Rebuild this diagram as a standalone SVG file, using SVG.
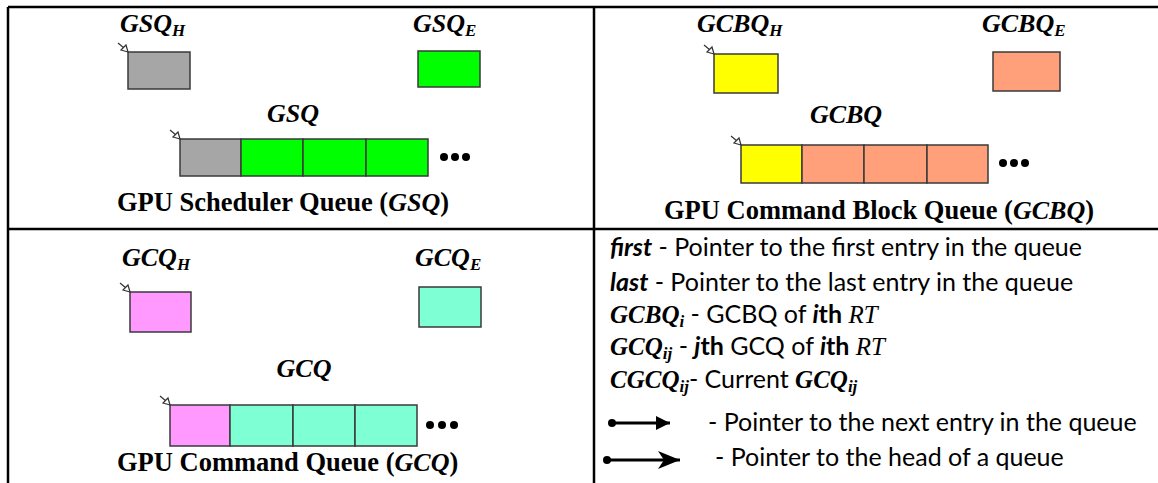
<svg xmlns="http://www.w3.org/2000/svg" width="1158" height="483" viewBox="0 0 1158 483">
  <style>
    .grid { stroke: #000; stroke-width: 2.5; fill: none; }
    .cell { stroke: #3a3a3a; stroke-width: 1.5; }
    .math { font-family: "Liberation Serif", "Times New Roman", serif; font-weight: bold; font-style: italic; font-size: 26px; fill: #000; }
    .mathi { font-family: "Liberation Serif", "Times New Roman", serif; font-style: italic; font-weight: normal; fill: #000; }
    .sub { font-size: 17px; }
    .cap { font-family: "Liberation Serif", "Times New Roman", serif; font-weight: bold; font-size: 26.5px; fill: #000; }
    .cap .math { font-size: 26px; }
    .leg { font-family: Lato, "Noto Sans", sans-serif; font-size: 25px; fill: #000; }
    .leg .math { font-size: 25px; }
    .leg .sub { font-size: 17px; }
    .leg .mathi { font-size: 25px; }
    .bi { font-weight: bold; font-style: italic; }
    .b { font-weight: bold; }
    .gray { fill: #a6a6a6; }
    .green { fill: #00ff00; }
    .yellow { fill: #ffff00; }
    .salmon { fill: #ffa07a; }
    .pink { fill: #ff99ff; }
    .aqua { fill: #7fffd4; }
    .ptr { stroke: #333; stroke-width: 1.2; fill: #fff; }
  </style>
  <defs>
    <!-- small hollow pointer that marks the head entry -->
    <g id="headPtr">
      <line x1="-10" y1="-9" x2="-4" y2="-4" stroke="#333" stroke-width="1.2"/>
      <polygon class="ptr" points="0,0 -7,-2 -2,-7"/>
    </g>
    <marker id="solidHead" markerWidth="16" markerHeight="16" refX="14" refY="8" orient="auto" markerUnits="userSpaceOnUse">
      <polygon points="0,1 14,8 0,15" fill="#000"/>
    </marker>
    <marker id="barbHead" markerWidth="24" markerHeight="20" refX="22" refY="10" orient="auto" markerUnits="userSpaceOnUse">
      <polygon points="0,1 22,10 0,19 6,10" fill="#000"/>
    </marker>
  </defs>

  <rect width="1158" height="483" fill="#fff"/>

  <!-- table rules -->
  <g id="table" class="grid">
    <line x1="8" y1="7" x2="1158" y2="7"/>
    <line x1="8" y1="7" x2="8" y2="483"/>
    <line x1="594" y1="7" x2="594" y2="483"/>
    <line x1="8" y1="229" x2="1158" y2="229"/>
  </g>

  <!-- GPU Scheduler Queue -->
  <g id="gsq-head">
    <text class="math" x="120" y="32">GSQ<tspan class="sub" dy="4">H</tspan></text>
    <rect class="cell gray" x="128" y="52" width="62" height="37"/>
    <use href="#headPtr" x="128" y="52"/>
  </g>
  <g id="gsq-end">
    <text class="math" x="413" y="32">GSQ<tspan class="sub" dy="4">E</tspan></text>
    <rect class="cell green" x="418" y="51" width="62" height="36"/>
  </g>
  <g id="gsq-queue">
    <text class="math" x="293" y="122" text-anchor="middle">GSQ</text>
    <rect class="cell gray" x="180" y="139" width="61" height="37"/>
    <rect class="cell green" x="241" y="139" width="62" height="37"/>
    <rect class="cell green" x="303" y="139" width="63" height="37"/>
    <rect class="cell green" x="366" y="139" width="62" height="37"/>
    <use href="#headPtr" x="180" y="139"/>
    <circle cx="444" cy="157" r="4"/>
    <circle cx="455" cy="157" r="4"/>
    <circle cx="466" cy="157" r="4"/>
  </g>
  <text id="gsq-caption" class="cap" x="117" y="211">GPU Scheduler Queue (<tspan class="math">GSQ</tspan>)</text>

  <!-- GPU Command Block Queue -->
  <g id="gcbq-head">
    <text class="math" x="697" y="32">GCBQ<tspan class="sub" dy="4">H</tspan></text>
    <rect class="cell yellow" x="714" y="54" width="64" height="39"/>
    <use href="#headPtr" x="714" y="54"/>
  </g>
  <g id="gcbq-end">
    <text class="math" x="982" y="32">GCBQ<tspan class="sub" dy="4">E</tspan></text>
    <rect class="cell salmon" x="993" y="52" width="67" height="39"/>
  </g>
  <g id="gcbq-queue">
    <text class="math" x="846" y="123" text-anchor="middle">GCBQ</text>
    <rect class="cell yellow" x="741" y="145" width="61" height="38"/>
    <rect class="cell salmon" x="802" y="145" width="62" height="38"/>
    <rect class="cell salmon" x="864" y="145" width="63" height="38"/>
    <rect class="cell salmon" x="927" y="145" width="61" height="38"/>
    <use href="#headPtr" x="741" y="145"/>
    <circle cx="1003" cy="163" r="4"/>
    <circle cx="1014" cy="163" r="4"/>
    <circle cx="1025" cy="163" r="4"/>
  </g>
  <text id="gcbq-caption" class="cap" x="664" y="219">GPU Command Block Queue (<tspan class="math">GCBQ</tspan>)</text>

  <!-- GPU Command Queue -->
  <g id="gcq-head">
    <text class="math" x="122" y="266">GCQ<tspan class="sub" dy="4">H</tspan></text>
    <rect class="cell pink" x="130" y="292" width="61" height="40"/>
    <use href="#headPtr" x="130" y="292"/>
  </g>
  <g id="gcq-end">
    <text class="math" x="415" y="266">GCQ<tspan class="sub" dy="4">E</tspan></text>
    <rect class="cell aqua" x="419" y="287" width="62" height="40"/>
  </g>
  <g id="gcq-queue">
    <text class="math" x="304" y="377" text-anchor="middle">GCQ</text>
    <rect class="cell pink" x="170" y="405" width="60" height="41"/>
    <rect class="cell aqua" x="230" y="405" width="63" height="41"/>
    <rect class="cell aqua" x="293" y="405" width="62" height="41"/>
    <rect class="cell aqua" x="355" y="405" width="62" height="41"/>
    <use href="#headPtr" x="170" y="405"/>
    <circle cx="430" cy="425" r="4"/>
    <circle cx="442" cy="425" r="4"/>
    <circle cx="454" cy="425" r="4"/>
  </g>
  <text id="gcq-caption" class="cap" x="117" y="471">GPU Command Queue (<tspan class="math">GCQ</tspan>)</text>

  <!-- legend -->
  <g id="legend" class="leg">
    <text x="610" y="256"><tspan class="bi">first</tspan> - Pointer to the first entry in the queue</text>
    <text x="610" y="291"><tspan class="bi">last</tspan> - Pointer to the last entry in the queue</text>
    <text x="610" y="323"><tspan class="math">GCBQ</tspan><tspan class="math sub" dy="4">i</tspan><tspan dy="-4"> -  GCBQ of </tspan><tspan class="bi">i</tspan><tspan class="b">th</tspan> <tspan class="mathi">RT</tspan></text>
    <text x="610" y="355"><tspan class="math">GCQ</tspan><tspan class="math sub" dy="4">ij</tspan><tspan dy="-4"> -  </tspan><tspan class="bi">j</tspan><tspan class="b">th</tspan> GCQ of <tspan class="bi">i</tspan><tspan class="b">th</tspan> <tspan class="mathi">RT</tspan></text>
    <text x="610" y="388"><tspan class="math">CGCQ</tspan><tspan class="math sub" dy="4">ij</tspan><tspan dy="-4">- Current </tspan><tspan class="math">GCQ</tspan><tspan class="math sub" dy="4">ij</tspan></text>
    <text x="708" y="431">- Pointer to the next entry in the queue</text>
    <text x="715" y="466">- Pointer to the head of a queue</text>
  </g>
  <g id="legend-arrows">
    <circle cx="612" cy="423" r="4"/>
    <line x1="612" y1="423" x2="670" y2="423" stroke="#000" stroke-width="3" marker-end="url(#solidHead)"/>
    <circle cx="607" cy="460" r="4"/>
    <line x1="607" y1="460" x2="680" y2="460" stroke="#000" stroke-width="3" marker-end="url(#barbHead)"/>
  </g>
</svg>
